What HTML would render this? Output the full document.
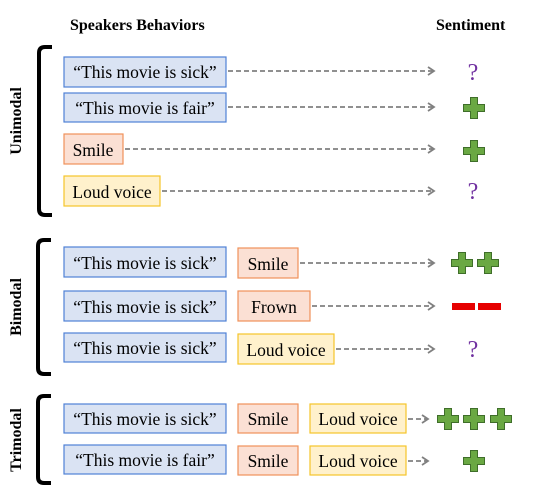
<!DOCTYPE html>
<html><head><meta charset="utf-8"><style>
html,body{margin:0;padding:0;background:#fff;}
svg{display:block;font-family:"Liberation Serif",serif;}
</style></head><body>
<svg width="543" height="490" viewBox="0 0 543 490" xmlns="http://www.w3.org/2000/svg">
<defs>
<marker id="ah" markerWidth="10" markerHeight="10" refX="8" refY="5" orient="auto" markerUnits="userSpaceOnUse">
<path d="M2,1 L8,5 L2,9" fill="none" stroke="#808080" stroke-width="1.8"/>
</marker>
<g id="plus"><path d="M-3.5,-10.5 H3.5 V-3.5 H10.5 V3.5 H3.5 V10.5 H-3.5 V3.5 H-10.5 V-3.5 H-3.5 Z" fill="#6aa843" stroke="#3f6e2a" stroke-width="1"/></g>
</defs>
<g font-weight="bold" font-size="16" fill="#000">
<text x="70" y="30">Speakers Behaviors</text>
<text x="436" y="30">Sentiment</text>
<text transform="translate(21,121) rotate(-90)" text-anchor="middle">Unimodal</text>
<text transform="translate(21,307) rotate(-90)" text-anchor="middle">Bimodal</text>
<text transform="translate(21,440) rotate(-90)" text-anchor="middle">Trimodal</text>
</g>
<g fill="none" stroke="#000" stroke-width="4">
<path d="M52,47 H45 Q39,47 39,53 V209 Q39,215 45,215 H52"/>
<path d="M51,240 H44 Q38,240 38,246 V368 Q38,374 44,374 H51"/>
<path d="M51,396 H44 Q38,396 38,402 V477 Q38,483 44,483 H51"/>
</g>
<g font-size="17.5" fill="#000">
<g fill="#dae3f3" stroke="#4f81d6" stroke-width="1.2">
<rect x="64" y="57" width="162" height="30"/>
<rect x="64" y="93" width="162" height="29"/>
<rect x="64" y="247" width="162" height="30"/>
<rect x="64" y="291" width="162" height="30"/>
<rect x="64" y="333" width="162" height="29"/>
<rect x="64" y="404" width="162" height="29"/>
<rect x="64" y="445" width="162" height="29"/>
</g>
<g fill="#fbe0d4" stroke="#f0915a" stroke-width="1.2">
<rect x="64" y="134" width="59" height="30"/>
<rect x="238" y="248" width="60" height="30"/>
<rect x="238" y="291" width="72" height="30"/>
<rect x="238" y="404" width="60" height="29"/>
<rect x="238" y="446" width="60" height="29"/>
</g>
<g fill="#fff1cc" stroke="#f5c52a" stroke-width="1.2">
<rect x="64" y="176" width="96" height="30"/>
<rect x="238" y="334" width="96" height="30"/>
<rect x="310" y="404" width="96" height="29"/>
<rect x="310" y="446" width="96" height="29"/>
</g>
<g text-anchor="middle">
<text x="145" y="78">“This movie is sick”</text>
<text x="145" y="114">“This movie is fair”</text>
<text x="93" y="156">Smile</text>
<text x="112" y="198">Loud voice</text>
<text x="145" y="269">“This movie is sick”</text>
<text x="145" y="313">“This movie is sick”</text>
<text x="145" y="354">“This movie is sick”</text>
<text x="145" y="425">“This movie is sick”</text>
<text x="145" y="466">“This movie is fair”</text>
<text x="268" y="270">Smile</text>
<text x="274" y="313">Frown</text>
<text x="286" y="356">Loud voice</text>
<text x="268" y="425">Smile</text>
<text x="268" y="467">Smile</text>
<text x="358" y="425">Loud voice</text>
<text x="358" y="467">Loud voice</text>
</g>
</g>
<g stroke="#808080" stroke-width="1.8" stroke-dasharray="5,3" fill="none" marker-end="url(#ah)">
<line x1="228" y1="71" x2="434" y2="71"/>
<line x1="228" y1="107" x2="434" y2="107"/>
<line x1="125" y1="149" x2="434" y2="149"/>
<line x1="162" y1="191" x2="434" y2="191"/>
<line x1="300" y1="263" x2="434" y2="263"/>
<line x1="312" y1="306" x2="434" y2="306"/>
<line x1="336" y1="349" x2="434" y2="349"/>
<line x1="408" y1="419" x2="428" y2="419"/>
<line x1="408" y1="461" x2="428" y2="461"/>
</g>
<g font-size="24" fill="#7030a0" text-anchor="middle">
<text x="473" y="80">?</text>
<text x="473" y="199">?</text>
<text x="473" y="357">?</text>
</g>
<use href="#plus" x="474" y="108"/>
<use href="#plus" x="474" y="151"/>
<use href="#plus" x="462" y="263"/>
<use href="#plus" x="488" y="263"/>
<use href="#plus" x="448" y="419"/>
<use href="#plus" x="474" y="419"/>
<use href="#plus" x="501" y="419"/>
<use href="#plus" x="474" y="461"/>
<rect x="452" y="303" width="23" height="7" fill="#e60000"/>
<rect x="478" y="303" width="23" height="7" fill="#e60000"/>
</svg>
</body></html>
